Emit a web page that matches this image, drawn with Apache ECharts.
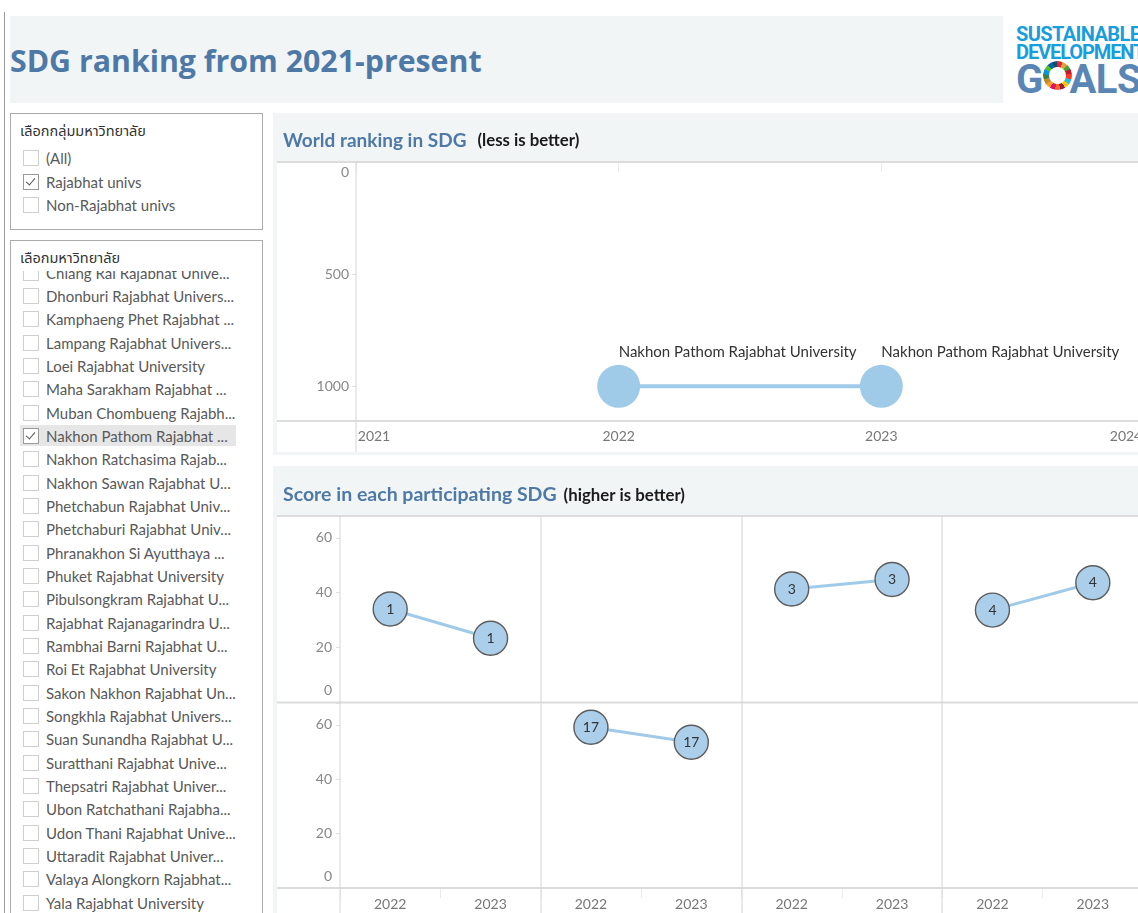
<!DOCTYPE html>
<html>
<head>
<meta charset="utf-8">
<title>SDG ranking from 2021-present</title>
<script src="https://cdn.jsdelivr.net/npm/echarts@6.0.0/dist/echarts.min.js"></script>
<style>
  body { margin: 0; width: 1138px; height: 913px; overflow: hidden; background: #fff;
         position: relative; font-family: Lato, "Noto Sans Thai", "Noto Sans", sans-serif; }
  .edge { position: absolute; left: 4px; top: 12px; width: 1px; height: 901px; background: #9a9a9a; }
  .header { position: absolute; left: 10px; top: 16px; width: 993px; height: 87px; background: #f2f5f6; }
  .header h1 { position: absolute; left: 0; top: 27px; margin: 0; font-family: "Open Sans", sans-serif;
               font-size: 30.3px; line-height: 36px; font-weight: bold; color: #4e79a7; white-space: nowrap; }
  .logo { position: absolute; left: 1016px; top: 24px; font-family: Roboto, sans-serif; font-weight: bold;
          white-space: nowrap; }
  .logo .l1 { font-size: 20px; line-height: 20px; color: #1a9ddb; letter-spacing: -0.6px; }
  .logo .l2 { font-size: 20px; line-height: 20px; color: #1a9ddb; letter-spacing: -1.1px; margin-top: -2px; }
  .logo .l3 { font-size: 40px; line-height: 40px; color: #5a86b6; margin-top: -2px; letter-spacing: -0.5px; }
  .logo .o { position: relative; color: transparent; }
  .logo .o::before { content: ""; position: absolute; left: 0px; top: 5px; width: 29px; height: 29px;
          border-radius: 50%;
          background: conic-gradient(#e5243b 0 21deg, #dda63a 0 42deg, #4c9f38 0 63deg, #c5192d 0 84deg,
            #ff3a21 0 106deg, #26bde2 0 127deg, #fcc30b 0 148deg, #a21942 0 169deg, #fd6925 0 190deg,
            #dd1367 0 212deg, #fd9d24 0 233deg, #bf8b2e 0 254deg, #3f7e44 0 275deg, #0a97d9 0 296deg,
            #56c02b 0 318deg, #00689d 0 339deg, #19486a 0 360deg);
          -webkit-mask: radial-gradient(circle, transparent 8px, #000 9px);
          mask: radial-gradient(circle, transparent 8px, #000 9px); }
  .box { position: absolute; left: 10px; width: 251px; border: 1px solid #ababab; background: #fff; }
  .box .ttl { position: absolute; left: 9px; top: 7px; font-size: 14.5px; line-height: 20px; color: #333; }
  .item { position: absolute; left: 12px; height: 20px; width: 230px; }
  .cb { position: absolute; left: 0; top: 2px; width: 14px; height: 14px; border: 1px solid #cfcfcf; background: #fff; }
  .cb.on { border-color: #9a9a9a; }
  .cb.on::after { content: ""; position: absolute; left: 4px; top: 1px; width: 4px; height: 8px;
          border: solid #555; border-width: 0 1.6px 1.6px 0; transform: rotate(40deg); }
  .lbl { position: absolute; left: 23px; top: 0; font-size: 15px; line-height: 20px; color: #595959; white-space: nowrap; }
  .list { position: absolute; left: 0; right: 0; top: 30px; bottom: 0; overflow: hidden; }
  .hl { position: absolute; left: 9px; width: 216px; height: 21px; background: #e6e6e6; }
  #chart { position: absolute; left: 273px; top: 113px; width: 900px; height: 800px; }
</style>
</head>
<body>
<div class="edge"></div>
<div class="header"><h1>SDG ranking from 2021-present</h1></div>
<div class="logo">
  <div class="l1">SUSTAINABLE</div>
  <div class="l2">DEVELOPMENT</div>
  <div class="l3">G<span class="o">O</span>ALS</div>
</div>

<div class="box" id="groupBox" style="top:113px;height:115px;">
  <div class="ttl">เลือกกลุ่มมหาวิทยาลัย</div>
</div>
<div class="box" id="univBox" style="top:240px;height:700px;">
  <div class="ttl">เลือกมหาวิทยาลัย</div>
  <div class="list" id="univList"></div>
</div>

<div id="chart"></div>

<script>
// filter options
const groupOptions = ["(All)", "Rajabhat univs", "Non-Rajabhat univs"];
const groupChecked = "Rajabhat univs";
const univOptions = [
  "Chiang Rai Rajabhat Unive...", "Dhonburi Rajabhat Univers...", "Kamphaeng Phet Rajabhat ...",
  "Lampang Rajabhat Univers...", "Loei Rajabhat University", "Maha Sarakham Rajabhat ...",
  "Muban Chombueng Rajabh...", "Nakhon Pathom Rajabhat ...", "Nakhon Ratchasima Rajab...",
  "Nakhon Sawan Rajabhat U...", "Phetchabun Rajabhat Univ...", "Phetchaburi Rajabhat Univ...",
  "Phranakhon Si Ayutthaya ...", "Phuket Rajabhat University", "Pibulsongkram Rajabhat U...",
  "Rajabhat Rajanagarindra U...", "Rambhai Barni Rajabhat U...", "Roi Et Rajabhat University",
  "Sakon Nakhon Rajabhat Un...", "Songkhla Rajabhat Univers...", "Suan Sunandha Rajabhat U...",
  "Suratthani Rajabhat Unive...", "Thepsatri Rajabhat Univer...", "Ubon Ratchathani Rajabha...",
  "Udon Thani Rajabhat Unive...", "Uttaradit Rajabhat Univer...", "Valaya Alongkorn Rajabhat...",
  "Yala Rajabhat University"
];
const univChecked = "Nakhon Pathom Rajabhat ...";

// world ranking (lower is better)
const univName = "Nakhon Pathom Rajabhat University";
const rankYears = [2022, 2023];
const rankValues = [1001, 1001];

// score per SDG (higher is better)
const scoreYears = ["2022", "2023"];
const sdgGoals = [1, 3, 4, 17];
const score2022 = [34.0, 41.3, 33.6, 59.1];
const score2023 = [23.3, 44.8, 43.6, 53.6];
// trellis panel order, 4 panels per row (null = empty panel)
const trellisGoals = [1, null, 3, 4, null, 17, null, null];

function addItem(parent, text, checked, top) {
  const it = document.createElement("div");
  it.className = "item";
  it.style.top = top + "px";
  it.innerHTML = '<div class="cb' + (checked ? ' on' : '') + '"></div><div class="lbl"></div>';
  it.querySelector(".lbl").textContent = text;
  parent.appendChild(it);
}
const groupBox = document.getElementById("groupBox");
groupOptions.forEach((g, i) => addItem(groupBox, g, g === groupChecked, 34 + i * 23.5));
const univList = document.getElementById("univList");
univOptions.forEach((u, i) => {
  const top = -8.4 + i * 23.33;
  if (u === univChecked) {
    const hl = document.createElement("div");
    hl.className = "hl";
    hl.style.top = (top - 0.5) + "px";
    univList.appendChild(hl);
  }
  addItem(univList, u, u === univChecked, top);
});

const chart = echarts.init(document.getElementById("chart"));
const FONT = "Lato, 'Noto Sans', sans-serif";
const gridLine = "#dcdcdc";

const grids = [{ left: 83, top: 49, width: 788, height: 259 }];
const xAxes = [{
  type: "value", gridIndex: 0, min: 2021, max: 2024, interval: 1,
  axisLine: { show: false }, splitLine: { show: false },
  axisTick: { show: true, length: 10, lineStyle: { color: "#ececec" } },
  axisLabel: {
    color: "#777", fontSize: 14, fontFamily: FONT, margin: 8,
    formatter: v => v === 2021 ? "{first|2021}" : v === 2024 ? "{last|2024}" : String(v),
    rich: {
      first: { color: "#777", fontSize: 14, fontFamily: FONT, padding: [0, 0, 0, 36] },
      last: { color: "#777", fontSize: 14, fontFamily: FONT, padding: [0, 36, 0, 0] }
    }
  }
}];
const yAxes = [{
  type: "value", gridIndex: 0, min: 0, max: 1156, interval: 500, inverse: true,
  axisLine: { show: false }, splitLine: { show: false },
  axisTick: { show: true, length: 4, lineStyle: { color: "#e2e2e2" } },
  axisLabel: {
    color: "#888", fontSize: 14, fontFamily: FONT, margin: 7,
    formatter: v => v % 500 !== 0 ? "" : v === 0 ? "{zero|0}" : String(v),
    rich: { zero: { color: "#888", fontSize: 14, fontFamily: FONT, padding: [20, 0, 0, 0] } }
  }
}];
const series = [{
  type: "line", xAxisIndex: 0, yAxisIndex: 0,
  data: rankYears.map((y, i) => [y, rankValues[i]]),
  symbol: "circle", symbolSize: 43,
  itemStyle: { color: "#a0cbe8" },
  lineStyle: { color: "#a0cbe8", width: 4 },
  label: { show: true, position: "top", align: "left", distance: 5, formatter: univName,
           color: "#333", fontSize: 15, fontFamily: FONT }
}];

trellisGoals.forEach((goal, i) => {
  const row = Math.floor(i / 4), col = i % 4;
  const gi = grids.length;
  grids.push({ left: 67 + col * 200.75, top: row ? 590 : 403, width: 200.75, height: row ? 185 : 186 });
  xAxes.push({
    type: "category", gridIndex: gi, data: scoreYears, boundaryGap: true,
    axisLine: { show: false }, splitLine: { show: false },
    axisTick: { show: row === 1, length: 10, lineStyle: { color: "#ececec" } },
    axisLabel: { show: row === 1, color: "#777", fontSize: 14, fontFamily: FONT, margin: 9 }
  });
  yAxes.push({
    type: "value", gridIndex: gi, min: 0, max: 68, interval: 20,
    axisLine: { show: false }, splitLine: { show: false },
    axisTick: { show: col === 0, length: 4, lineStyle: { color: "#e2e2e2" } },
    axisLabel: {
      show: col === 0, color: "#888", fontSize: 14, fontFamily: FONT, margin: 8,
      formatter: v => v % 20 !== 0 ? "" : v === 0 ? "{zero|0}" : String(v),
      rich: { zero: { color: "#888", fontSize: 14, fontFamily: FONT, padding: [0, 0, 24, 0] } }
    }
  });
  const k = sdgGoals.indexOf(goal);
  if (goal !== null && k >= 0) {
    series.push({
      type: "line", xAxisIndex: gi, yAxisIndex: gi,
      data: [score2022[k], score2023[k]],
      symbol: "circle", symbolSize: 34,
      itemStyle: { color: "#abcfeb", borderColor: "#5c5c5c", borderWidth: 1.4 },
      lineStyle: { color: "#a0cbe8", width: 3 },
      label: { show: true, position: "inside", formatter: String(goal), color: "#333",
               fontSize: 14, fontFamily: FONT }
    });
  }
});

// panel chrome: backgrounds and dividers
const hLine = (y, x1, x2, w) => ({ type: "line", silent: true, z: 1,
  shape: { x1: x1, y1: y, x2: x2, y2: y }, style: { stroke: gridLine, lineWidth: w || 2 } });
const vLine = (x, y1, y2) => ({ type: "line", silent: true, z: 1,
  shape: { x1: x, y1: y1, x2: x, y2: y2 }, style: { stroke: "#d4d4d4", lineWidth: 1 } });
const graphic = [
  { type: "rect", z: 0, silent: true, shape: { x: 0, y: 0, width: 900, height: 342 }, style: { fill: "#f2f5f6" } },
  { type: "rect", z: 0, silent: true, shape: { x: 4, y: 49, width: 896, height: 290 }, style: { fill: "#fff" } },
  { type: "rect", z: 0, silent: true, shape: { x: 0, y: 353, width: 900, height: 447 }, style: { fill: "#f2f5f6" } },
  { type: "rect", z: 0, silent: true, shape: { x: 4, y: 403, width: 896, height: 397 }, style: { fill: "#fff" } },
  hLine(49, 4, 900), hLine(308, 4, 900), vLine(83, 49, 339),
  hLine(403, 4, 900), hLine(589.5, 4, 900), hLine(775, 4, 900),
  vLine(67, 403, 800), vLine(268, 403, 800), vLine(469, 403, 800), vLine(669, 403, 800)
];

const titleRich = (size, gap) => ({
  a: { fontFamily: FONT, fontWeight: "bold", fontSize: size, color: "#4e79a7" },
  b: { fontFamily: FONT, fontWeight: "bold", fontSize: 16.8, color: "#1a1a1a", padding: [1, 0, 0, gap] }
});

chart.setOption({
  animation: false,
  title: [
    { left: 5, top: 13, text: "{a|World ranking in SDG}{b|(less is better)}",
      textStyle: { rich: titleRich(19, 11) } },
    { left: 5, top: 367, text: "{a|Score in each participating SDG}{b|(higher is better)}",
      textStyle: { rich: titleRich(19.5, 7) } }
  ],
  graphic: graphic,
  grid: grids,
  xAxis: xAxes,
  yAxis: yAxes,
  series: series
});
</script>
</body>
</html>
